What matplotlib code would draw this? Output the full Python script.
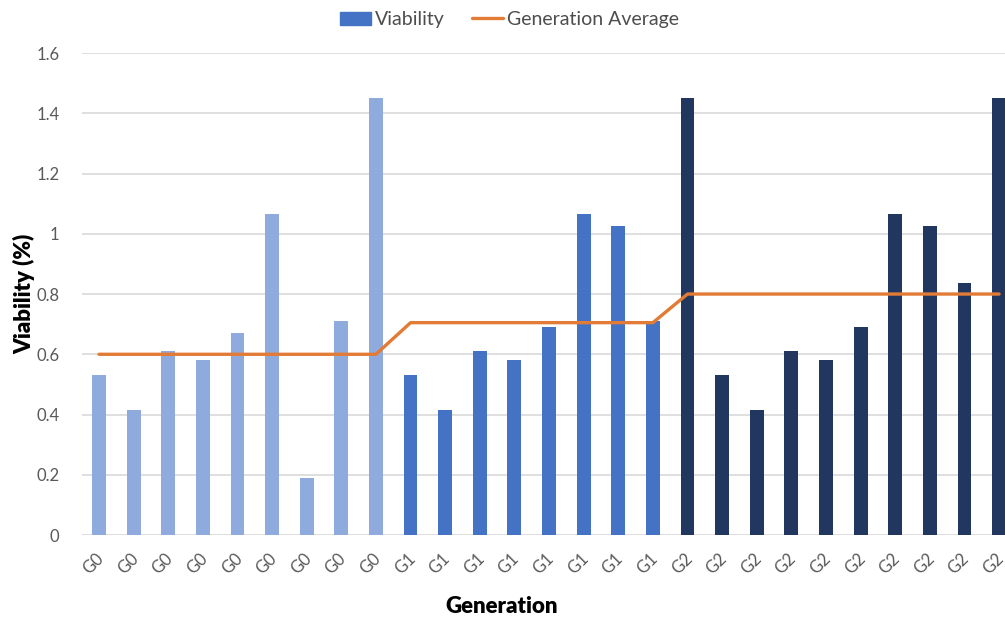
import matplotlib.pyplot as plt
import matplotlib.transforms as mtransforms
import numpy as np

plt.rcParams['font.family'] = ['Lato', 'DejaVu Sans']

# viability per sample, grouped by generation
g0_values = [0.53, 0.415, 0.61, 0.58, 0.67, 1.065, 0.19, 0.71, 1.45]
g1_values = [0.53, 0.415, 0.61, 0.58, 0.69, 1.065, 1.025, 0.71]
g2_values = [1.45, 0.53, 0.415, 0.61, 0.58, 0.69, 1.065, 1.025, 0.835, 1.45]

# average line value shown for each generation
gen_average = {'G0': 0.6, 'G1': 0.705, 'G2': 0.8}

gen_colors = {'G0': '#8FAADC', 'G1': '#4472C4', 'G2': '#22375F'}

labels = ['G0'] * len(g0_values) + ['G1'] * len(g1_values) + ['G2'] * len(g2_values)
viability = g0_values + g1_values + g2_values
avg_line = [gen_average[g] for g in labels]
x = np.arange(len(labels))

fig = plt.figure(figsize=(10.05, 6.2), dpi=100)
ax = fig.add_axes([0.0813, 0.137, 0.93, 0.7775])

ax.bar(x, viability, width=0.4, color=[gen_colors[g] for g in labels],
       zorder=2, label='Viability')
ax.plot(x, avg_line, color='#E27B35', linewidth=2.4, zorder=3,
        label='Generation Average', solid_capstyle='round')

ax.set_xlim(-0.5, len(labels) - 0.5)
ax.set_ylim(0, 1.6)
ax.set_yticks(np.arange(0, 1.61, 0.2))
ax.set_yticklabels(['0', '0.2', '0.4', '0.6', '0.8', '1', '1.2', '1.4', '1.6'])
ax.set_xticks(x)
ax.set_xticklabels([])

# slanted category labels, sitting a little left of and below each bar
offset = mtransforms.ScaledTranslation(-5.5 / 100, -29 / 100, fig.dpi_scale_trans)
for xi, lab in zip(x, labels):
    ax.text(xi, 0, lab, transform=ax.get_xaxis_transform() + offset,
            rotation=45, ha='center', va='center', fontsize=12, color='#595959')

ax.grid(axis='y', color='#D9D9D9', linewidth=1.2, zorder=0)
for s in ax.spines.values():
    s.set_visible(False)
ax.tick_params(axis='both', length=0, labelsize=12, colors='#595959')
ax.tick_params(axis='y', pad=16)

ax.set_xlabel('Generation', fontsize=16, fontweight='heavy')
ax.xaxis.set_label_coords(0.4497, -0.127)
ax.set_ylabel('Viability (%)', fontsize=16, fontweight='heavy')
ax.yaxis.set_label_coords(-0.05, 0.5)

# legend swatch uses the mid blue
handles, lbls = ax.get_legend_handles_labels()
bar_handle = plt.Rectangle((0, 0), 1, 1, color='#4472C4')
fig.legend([bar_handle, handles[0]], ['Viability', 'Generation Average'],
           loc='upper center', bbox_to_anchor=(0.507, 1.01), ncol=2, frameon=False,
           fontsize=14, handlelength=1.6, handletextpad=0.2, columnspacing=1.4,
           labelcolor='#4d4d4d')

fig.savefig('out.png', dpi=100)
